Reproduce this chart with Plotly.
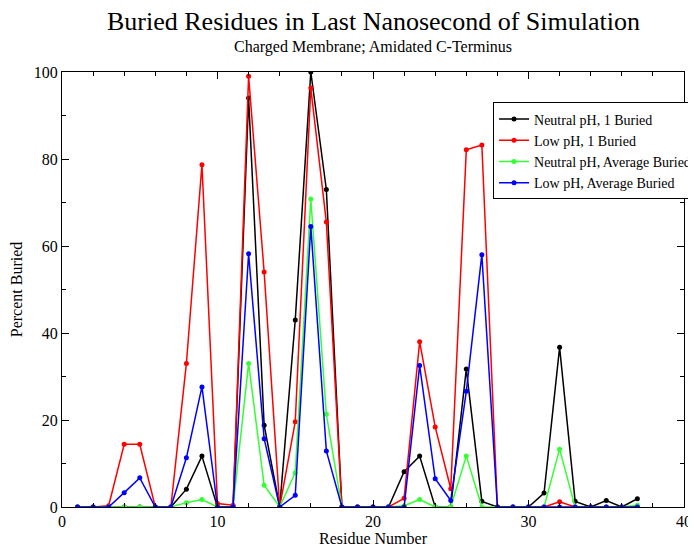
import plotly.graph_objects as go

# Residue numbers along the peptide
residues = list(range(1, 38))

# Percent buried
neutral_one = [0, 0, 0, 0, 0, 0, 0, 4.1, 11.7, 0, 0, 94, 18.8, 0, 43, 100, 73, 0,
               0, 0, 0, 8.1, 11.7, 0, 0, 31.7, 1.3, 0, 0, 0, 3.2, 36.7, 1.3, 0, 1.5, 0, 1.9]
low_one = [0, 0, 0.3, 14.4, 14.4, 0, 0, 33, 78.7, 0.8, 0.4, 99, 54, 0, 19.6, 96.3, 65.5, 0,
           0, 0, 0, 2, 38, 18.4, 4.2, 82.1, 83.2, 0, 0, 0, 0, 1.2, 0, 0, 0, 0, 0]
neutral_avg = [0, 0, 0, 0, 0, 0, 0, 1, 1.7, 0, 0, 33, 5, 0, 7.9, 70.8, 21.3, 0,
               0, 0, 0, 0.3, 1.7, 0, 0, 11.7, 0, 0, 0, 0, 0, 13.3, 0, 0, 0, 0, 0.4]
low_avg = [0, 0, 0, 3.3, 6.7, 0, 0, 11.3, 27.6, 0, 0, 58.2, 15.7, 0, 2.7, 64.5, 12.9, 0,
           0, 0, 0, 0, 32.5, 6.5, 1.5, 26.6, 58, 0, 0, 0, 0, 0, 0, 0, 0, 0, 0]

series = [
    ("Neutral pH, 1 Buried", neutral_one, "#000000"),
    ("Low pH, 1 Buried", low_one, "#ff0000"),
    ("Neutral pH, Average Buried", neutral_avg, "#33ff33"),
    ("Low pH, Average Buried", low_avg, "#0000ff"),
]

serif = "Liberation Serif, Times New Roman, serif"

fig = go.Figure()
for name, vals, color in series:
    fig.add_trace(go.Scatter(
        x=residues, y=vals, name=name, mode="lines+markers",
        line=dict(color=color, width=1.5),
        marker=dict(color=color, size=5, symbol="circle"),
    ))

axis_common = dict(
    showgrid=False, zeroline=False, showline=True, linecolor="black", linewidth=1,
    mirror="allticks", ticks="inside", ticklen=7, tickcolor="black",
    tickfont=dict(family=serif, size=16, color="black"), automargin=False,
)

# title + subtitle above the plot area
fig.add_annotation(text="Buried Residues in Last Nanosecond of Simulation",
                   xref="paper", yref="paper", x=0.5, y=1.115,
                   xanchor="center", yanchor="middle", showarrow=False,
                   font=dict(family=serif, size=26, color="black"))
fig.add_annotation(text="Charged Membrane; Amidated C-Terminus",
                   xref="paper", yref="paper", x=0.5, y=1.0575,
                   xanchor="center", yanchor="middle", showarrow=False,
                   font=dict(family=serif, size=16, color="black"))

# the page body adds 8px on top/left, so margins are offset by that
fig.update_layout(
    width=696, height=545,
    paper_bgcolor="white", plot_bgcolor="white",
    margin=dict(l=54, r=20, t=64, b=46, autoexpand=False),
    xaxis=dict(axis_common, range=[0, 40], dtick=10,
               minor=dict(ticks="inside", ticklen=4, tickcolor="black", dtick=2),
               title=dict(text="Residue Number", standoff=2,
                          font=dict(family=serif, size=16, color="black"))),
    yaxis=dict(axis_common, range=[0, 100], dtick=20,
               minor=dict(ticks="inside", ticklen=4, tickcolor="black", dtick=10),
               title=dict(text="Percent Buried", standoff=12,
                          font=dict(family=serif, size=16, color="black"))),
    legend=dict(
        x=0.693, y=0.93, xanchor="left", yanchor="top",
        bgcolor="white", bordercolor="black", borderwidth=1,
        font=dict(family=serif, size=14, color="black"),
        itemwidth=30, tracegroupgap=0,
    ),
)

fig.write_html("out.html")
